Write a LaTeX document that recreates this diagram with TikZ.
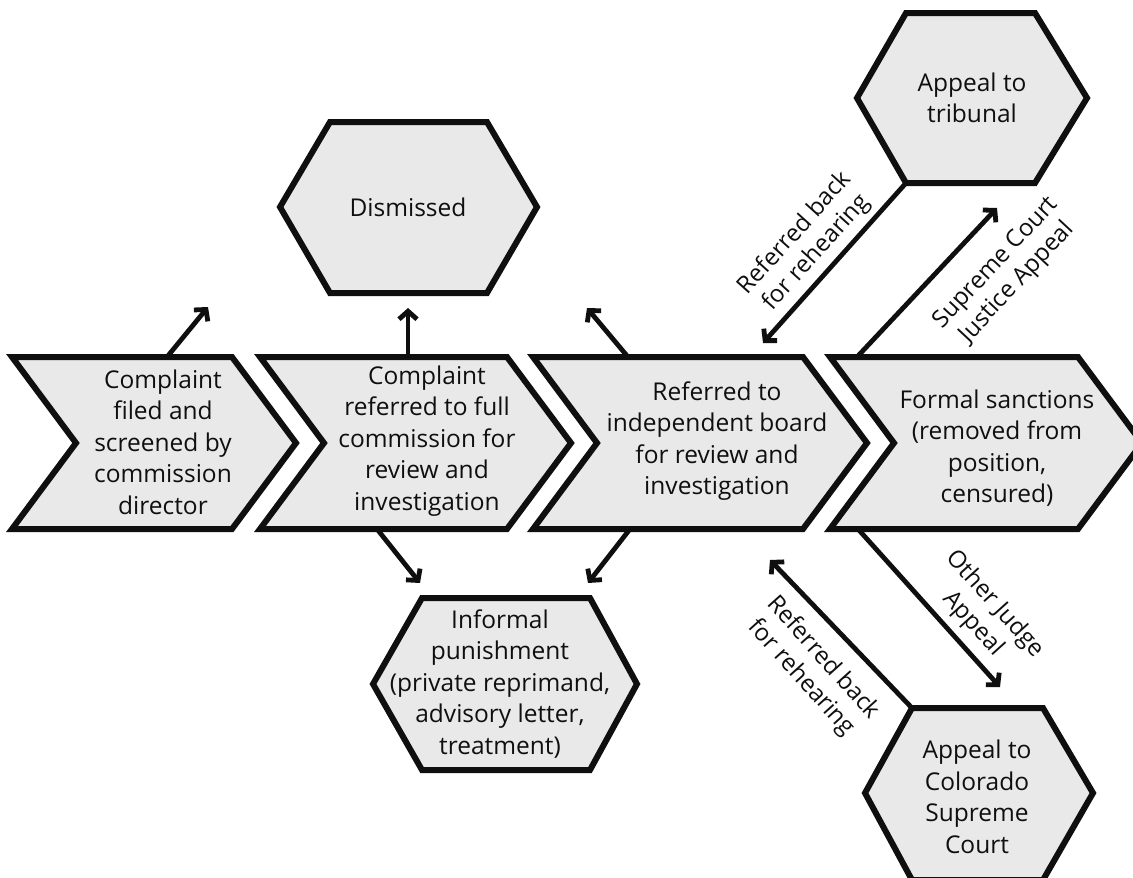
\documentclass[tikz,border=0pt]{standalone}
\usepackage{fontspec}
\setmainfont{Open Sans}
\usetikzlibrary{arrows.meta}
\definecolor{boxfill}{RGB}{233,233,233}
\definecolor{ink}{RGB}{15,15,15}
\tikzset{
  shapebox/.style={draw=ink, fill=boxfill, line width=6pt, line join=miter},
  boxtext/.style={align=center, font=\fontsize{24.5}{31.5}\selectfont, text=ink, inner sep=0pt},
  lbl/.style={align=center, font=\fontsize{24}{29}\selectfont, text=ink, inner sep=0pt},
  conn/.style={draw=ink, line width=4.8pt, -{Straight Barb[length=8pt,width=18pt,line width=4.8pt]}},
}
\begin{document}
\begin{tikzpicture}[x=1pt,y=-1pt]
\useasboundingbox (0,0) rectangle (1133,878);
\clip (0,0) rectangle (1133,878);
% chevrons
\path[shapebox] (12,357)--(232,357)--(296,443)--(232,529)--(12,529)--(76,443)--cycle;
\path[shapebox] (260,357)--(507,357)--(571,443)--(507,529)--(260,529)--(324,443)--cycle;
\path[shapebox] (533,357)--(803,357)--(867,443)--(803,529)--(533,529)--(597,443)--cycle;
\path[shapebox] (830,357)--(1078,357)--(1142,443)--(1078,529)--(830,529)--(894,443)--cycle;
% hexagons
\path[shapebox] (280,207)--(330,122)--(487,122)--(537,207)--(487,293)--(330,293)--cycle;
\path[shapebox] (857,98)--(906,13)--(1035,13)--(1087,98)--(1035,183)--(906,183)--cycle;
\path[shapebox] (373,684)--(422,598)--(590,598)--(637,684)--(590,770)--(422,770)--cycle;
\path[shapebox] (865,793)--(912,708)--(1043,708)--(1093,793)--(1043,880)--(912,880)--cycle;
% texts
\node[boxtext] (c1) at (163,442) {Complaint\\filed and\\screened by\\commission\\director};
\node[boxtext] (c2) at (427,441) {Complaint\\referred to full\\commission for\\review and\\investigation};
\node[boxtext] (c3) at (717,441) {Referred to\\independent board\\for review and\\investigation};
\node[boxtext] (c4) at (997,448) {Formal sanctions\\(removed from\\position,\\censured)};
\node[boxtext] (dis) at (408,207) {Dismissed};
\node[boxtext] (trib) at (972,98) {Appeal to\\tribunal};
\node[boxtext] (inf) at (500,684) {Informal\\punishment\\(private reprimand,\\advisory letter,\\treatment)};
\node[boxtext] (colo) at (977,797) {Appeal to\\Colorado\\Supreme\\Court};
% connector anchors
\coordinate (c1t) at (167,357);
\coordinate (c1x) at (208,307);
\coordinate (c2t) at (408,357);
\coordinate (disb) at (408,308);
\coordinate (c3t) at (628,357);
\coordinate (c3x) at (587,308);
\coordinate (c2b) at (377,529);
\coordinate (infl) at (420,583);
\coordinate (c3b) at (630,529);
\coordinate (infr) at (588,583);
\coordinate (tribc) at (906,183);
\coordinate (c3r) at (763,343);
\coordinate (c4t) at (857,357);
\coordinate (tribb) at (997,208);
\coordinate (c4b) at (858,529);
\coordinate (colot) at (1000,687);
\coordinate (coloc) at (912,708);
\coordinate (c3rb) at (770,560);
% connectors
\draw[conn] (c1t) -- (c1x);
\draw[conn] (c2t) -- (disb);
\draw[conn] (c3t) -- (c3x);
\draw[conn] (c2b) -- (infl);
\draw[conn] (c3b) -- (infr);
\draw[conn] (tribc) -- (c3r);
\draw[conn] (c4t) -- (tribb);
\draw[conn] (c4b) -- (colot);
\draw[conn] (coloc) -- (c3rb);
% labels
\node[lbl, rotate=48] (l1) at (806,243) {Referred back\\for rehearing};
\node[lbl, rotate=47] (l2) at (1007,273) {Supreme Court\\Justice Appeal};
\node[lbl, rotate=-48] (l3) at (984,614) {Other Judge\\Appeal};
\node[lbl, rotate=-48] (l4) at (812,668) {Referred back\\for rehearing};
\end{tikzpicture}
\end{document}
